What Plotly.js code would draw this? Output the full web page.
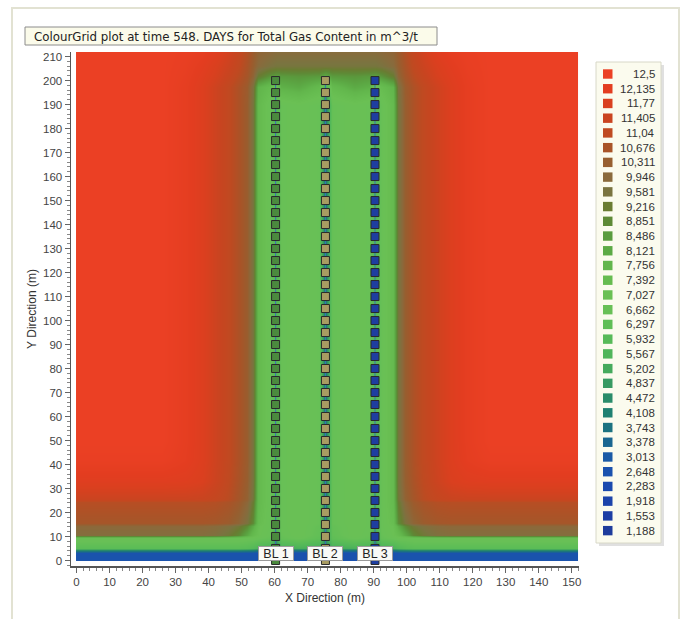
<!DOCTYPE html>
<html><head><meta charset="utf-8">
<script src="https://cdn.plot.ly/plotly-3.0.1.min.js"></script>
<style>html,body{margin:0;padding:0;background:#fff;} #chart{width:686px;height:619px;}</style>
</head><body><div id="chart"></div>
<script>
const titleText = 'ColourGrid plot at time 548. DAYS for Total Gas Content in m^3/t';
const xTitle = 'X Direction (m)';
const yTitle = 'Y Direction (m)';

// legend (value classes of the colour grid)
const legendValues = [12.5, 12.135, 11.77, 11.405, 11.04, 10.676, 10.311, 9.946, 9.581, 9.216, 8.851, 8.486, 8.121, 7.756, 7.392, 7.027, 6.662, 6.297, 5.932, 5.567, 5.202, 4.837, 4.472, 4.108, 3.743, 3.378, 3.013, 2.648, 2.283, 1.918, 1.553, 1.188];
const legendLabels = ['12,5','12,135','11,77','11,405','11,04','10,676','10,311','9,946','9,581','9,216','8,851','8,486','8,121','7,756','7,392','7,027','6,662','6,297','5,932','5,567','5,202','4,837','4,472','4,108','3,743','3,378','3,013','2,648','2,283','1,918','1,553','1,188'];
const legendColors = ['#eb4024','#e33d20','#d9401f','#ca4420','#bf4a21','#a95428','#975f30','#8a6a3c','#7a7440','#6a7c32','#5e8a36','#5a9c3e','#5caa45','#62b64c','#66bc50','#6ac054','#68c056','#5fbe56','#57ba58','#4fb55a','#45aa5c','#379a62','#2a8c6a','#1f8071','#1c7280','#1a6690','#1a5aa6','#1a52ae','#1a4aae','#1c44aa','#1c3ea4','#1e3c9c'];

// grid nodes (m)
const xNodes = [0.3, 26, 33, 38, 42, 46, 49, 51.5, 53.5, 55, 58.5, 60.3, 62, 67, 73.5, 75.4, 77.3, 84, 88.7, 90.4, 92.2, 96, 97.5, 99.5, 102, 105, 109, 113, 118, 125, 151.5];
const yNodes = [0, 0.3, 3.3, 4.3, 5.3, 9.5, 10.5, 14.5, 15.5, 24.5, 25.5, 33, 42, 50, 190, 197.5, 202, 206, 211.5, 211.9];

// gas content rows (m^3/t)
const rowBlue      = [2.7,2.7,2.7,2.7,2.7,2.7,2.7,2.7,2.7,2.6,2.5,2.1,2.5,2.6,2.5,2.1,2.5,2.6,2.5,2.1,2.5,2.6,2.7,2.7,2.7,2.7,2.7,2.7,2.7,2.7,2.7];
const rowTeal      = [4.4,4.4,4.4,4.4,4.4,4.4,4.4,4.3,4.2,4.0,3.9,3.3,3.9,3.9,3.9,3.3,3.9,3.9,3.9,3.3,3.9,4.0,4.2,4.3,4.4,4.4,4.4,4.4,4.4,4.4,4.4];
const rowGreenLow  = [6.1,6.1,6.1,6.1,6.1,6.1,6.1,6.0,5.8,5.5,5.3,4.3,5.3,5.4,5.2,4.3,5.2,5.4,5.3,4.3,5.3,5.5,5.8,6.0,6.1,6.1,6.1,6.1,6.1,6.1,6.1];
const rowGreenHigh = [6.9,6.9,6.9,6.9,6.9,6.9,6.9,6.8,6.8,6.7,6.5,5.0,6.5,6.7,6.3,4.6,6.3,6.7,6.5,5.0,6.5,6.7,6.8,6.8,6.9,6.9,6.9,6.9,6.9,6.9,6.9];
const rowBand1a    = [9.8,9.8,9.8,9.8,9.7,9.4,8.9,8.1,7.4,7.0,6.6,5.3,6.6,6.9,6.4,4.5,6.4,6.9,6.6,5.3,6.6,7.0,7.4,8.1,8.9,9.4,9.7,9.8,9.8,9.8,9.8];
const rowBand1b    = [10.0,10.0,10.0,10.0,9.9,9.7,9.4,8.8,8.0,7.1,6.7,5.6,6.7,6.9,6.5,4.3,6.5,6.9,6.7,5.6,6.7,7.1,8.0,8.8,9.4,9.7,9.9,10.0,10.0,10.0,10.0];
const rowBand2a    = [10.6,10.6,10.6,10.6,10.55,10.4,10.1,9.6,8.8,7.3,6.7,5.8,6.7,6.9,6.6,4.0,6.6,6.9,6.7,5.8,6.7,7.3,8.8,9.6,10.1,10.4,10.55,10.6,10.6,10.6,10.6];
const rowBand2b    = [10.9,10.9,10.9,10.9,10.85,10.7,10.45,10.0,9.2,7.5,6.7,5.8,6.7,6.9,6.6,3.8,6.6,6.9,6.7,5.8,6.7,7.5,9.2,10.0,10.45,10.7,10.85,10.9,10.9,10.9,10.9];
const rowFade1     = [11.4,11.4,11.4,11.35,11.2,10.95,10.6,10.2,9.4,7.5,6.7,5.8,6.7,6.9,6.6,3.8,6.6,6.9,6.7,5.8,6.7,7.5,9.4,10.2,10.6,10.95,11.2,11.35,11.4,11.4,11.4];
const rowFade2     = [12.0,12.0,11.95,11.8,11.45,11.05,10.7,10.3,9.5,7.5,6.7,5.8,6.7,6.9,6.6,3.8,6.6,6.9,6.7,5.8,6.7,7.5,9.5,10.3,10.7,11.05,11.45,11.8,11.95,12.0,12.0];
const rowFade3     = [12.4,12.4,12.2,11.9,11.5,11.1,10.75,10.35,9.5,7.5,6.7,5.8,6.7,6.9,6.6,3.8,6.6,6.9,6.7,5.8,6.7,7.5,9.5,10.35,10.75,11.1,11.5,11.9,12.2,12.4,12.4];
const rowMid       = [12.5,12.5,12.25,11.9,11.5,11.1,10.75,10.35,9.5,7.5,6.7,5.8,6.7,6.9,6.6,3.8,6.6,6.9,6.7,5.8,6.7,7.5,9.5,10.35,10.75,11.1,11.5,11.9,12.25,12.5,12.5];
const rowTop1      = [12.5,12.5,12.25,11.9,11.5,11.1,10.75,10.4,9.6,7.8,7.3,6.8,7.9,8.1,7.5,5.5,7.5,8.1,7.9,6.8,7.3,7.8,9.6,10.4,10.75,11.1,11.5,11.9,12.25,12.5,12.5];
const rowTop2      = [12.5,12.5,12.3,12.0,11.7,11.3,10.95,10.6,10.1,9.2,8.6,8.4,8.5,8.6,8.5,8.1,8.5,8.6,8.5,8.4,8.6,9.2,10.1,10.6,10.95,11.3,11.7,12.0,12.3,12.5,12.5];
const rowTop3      = [12.5,12.5,12.35,12.1,11.8,11.45,11.1,10.7,10.3,9.9,9.6,9.5,9.5,9.5,9.5,9.5,9.5,9.5,9.5,9.5,9.6,9.9,10.3,10.7,11.1,11.45,11.8,12.1,12.35,12.5,12.5];
const rowTop4      = [12.5,12.5,12.4,12.25,12.0,11.6,11.2,10.8,10.4,10.1,9.95,9.85,9.85,9.85,9.85,9.85,9.85,9.85,9.85,9.85,9.95,10.1,10.4,10.8,11.2,11.6,12.0,12.25,12.4,12.5,12.5];

// boreholes
const boreholeNames = ['BL 1', 'BL 2', 'BL 3'];
const boreholeX = [60.3, 75.4, 90.4];
const boreholeColors = ['#4b8a3e', '#a89c62', '#1e3ea0'];
const sampleDepths = [0,5,10,15,20,25,30,35,40,45,50,55,60,65,70,75,80,85,90,95,100,105,110,115,120,125,130,135,140,145,150,155,160,165,170,175,180,185,190,195,200];

// ---- build ----
const rowsByY = [rowBlue,rowBlue,rowBlue,rowTeal,rowGreenLow,rowGreenHigh,rowBand1a,rowBand1b,rowBand2a,rowBand2b,rowFade1,rowFade2,rowFade3,rowMid,rowMid,rowTop1,rowTop2,rowTop3,rowTop4,rowTop4];
const pad = r => [r[0]].concat(r, [r[r.length-1]]);
const xs = [0].concat(xNodes, [151.8]);
const z = rowsByY.map(pad);

const zmin = Math.min(...legendValues), zmax = Math.max(...legendValues);
const colorscale = legendValues.map((v, i) => [(v - zmin) / (zmax - zmin), legendColors[i]]).reverse();

const traces = [{
  type: 'heatmap', x: xs, y: yNodes, z: z, zsmooth: 'best',
  colorscale: colorscale, zmin: zmin, zmax: zmax, showscale: false, hoverinfo: 'skip'
}];
boreholeX.forEach((bx, i) => {
  traces.push({
    type: 'scatter', mode: 'lines+markers', x: sampleDepths.map(() => bx), y: sampleDepths,
    line: {color: '#3a74b4', width: 1},
    marker: {symbol: 'square', size: 8, color: boreholeColors[i], line: {color: '#2a2a2a', width: 1}},
    showlegend: false, hoverinfo: 'skip', cliponaxis: true
  });
});

const L = 71, R = 579, T = 52, B = 566, W = R - L, H = B - T;
const px = p => (p - L) / W;
const py = p => (B - p) / H;
const FONT = 'Liberation Sans, Arial, sans-serif';

const shapes = [];
const annotations = [];
// page frame
shapes.push({type:'rect', xref:'paper', yref:'paper', x0:px(12), x1:px(679), y0:py(640), y1:py(8), line:{color:'#e2e2d2', width:2}, fillcolor:'rgba(0,0,0,0)', layer:'below'});
// title box
shapes.push({type:'rect', xref:'paper', yref:'paper', x0:px(25), x1:px(437), y0:py(45), y1:py(27), line:{color:'#8c8c8c', width:1}, fillcolor:'#fbfbea'});
annotations.push({xref:'paper', yref:'paper', x:px(32), y:py(36.5), xanchor:'left', yanchor:'middle', showarrow:false, text:titleText, font:{family:'DejaVu Sans, Verdana, sans-serif', size:11.8, color:'#222'}});
// legend box
shapes.push({type:'rect', xref:'paper', yref:'paper', x0:px(599), x1:px(664), y0:py(546), y1:py(65), line:{width:0}, fillcolor:'rgba(0,0,0,0.12)'});
shapes.push({type:'rect', xref:'paper', yref:'paper', x0:px(596), x1:px(661), y0:py(543), y1:py(62), line:{color:'#d8d8c8', width:1}, fillcolor:'#fbfbee'});
legendLabels.forEach((lab, i) => {
  const cy = 74 + i * 14.73;
  shapes.push({type:'rect', xref:'paper', yref:'paper', x0:px(603), x1:px(612.5), y0:py(cy+4.7), y1:py(cy-4.7), line:{width:0}, fillcolor:legendColors[i]});
  annotations.push({xref:'paper', yref:'paper', x:px(656.5), y:py(cy), xanchor:'right', yanchor:'middle', showarrow:false, text:lab, font:{family:FONT, size:11.5, color:'#333'}});
});
// borehole labels
boreholeNames.forEach((nm, i) => {
  annotations.push({x: boreholeX[i], y: 3.1, xref:'x', yref:'y', showarrow:false, text:nm, width:32, height:11, borderpad:1,
    bgcolor:'#f9f9f6', bordercolor:'#9a9a9a', borderwidth:1, font:{family:FONT, size:12.5, color:'#222'}});
});

const axisCommon = {
  showgrid:false, zeroline:false, showline:true, linecolor:'#555', linewidth:1.5,
  ticks:'outside', ticklen:5, tickwidth:1, tickcolor:'#666', tickmode:'linear', tick0:0, dtick:10,
  minor:{ticks:'outside', ticklen:3, dtick:2, tickcolor:'#888', tickwidth:1},
  tickfont:{family:FONT, size:11.5, color:'#444'},
  automargin:false, fixedrange:true
};
const layout = {
  width:686, height:619, margin:{l:L, r:686-R, t:T, b:619-B, pad:0},
  paper_bgcolor:'#ffffff', plot_bgcolor:'#ffffff', showlegend:false,
  xaxis: Object.assign({}, axisCommon, {range:[-1.67, 152.2], title:{text:xTitle, standoff:6, font:{family:FONT, size:12, color:'#333'}}}),
  yaxis: Object.assign({}, axisCommon, {range:[-2.3, 211.9], title:{text:yTitle, standoff:4, font:{family:FONT, size:12, color:'#333'}}}),
  shapes: shapes, annotations: annotations
};
Plotly.newPlot('chart', traces, layout, {displayModeBar:false, staticPlot:true});
</script>
</body></html>
